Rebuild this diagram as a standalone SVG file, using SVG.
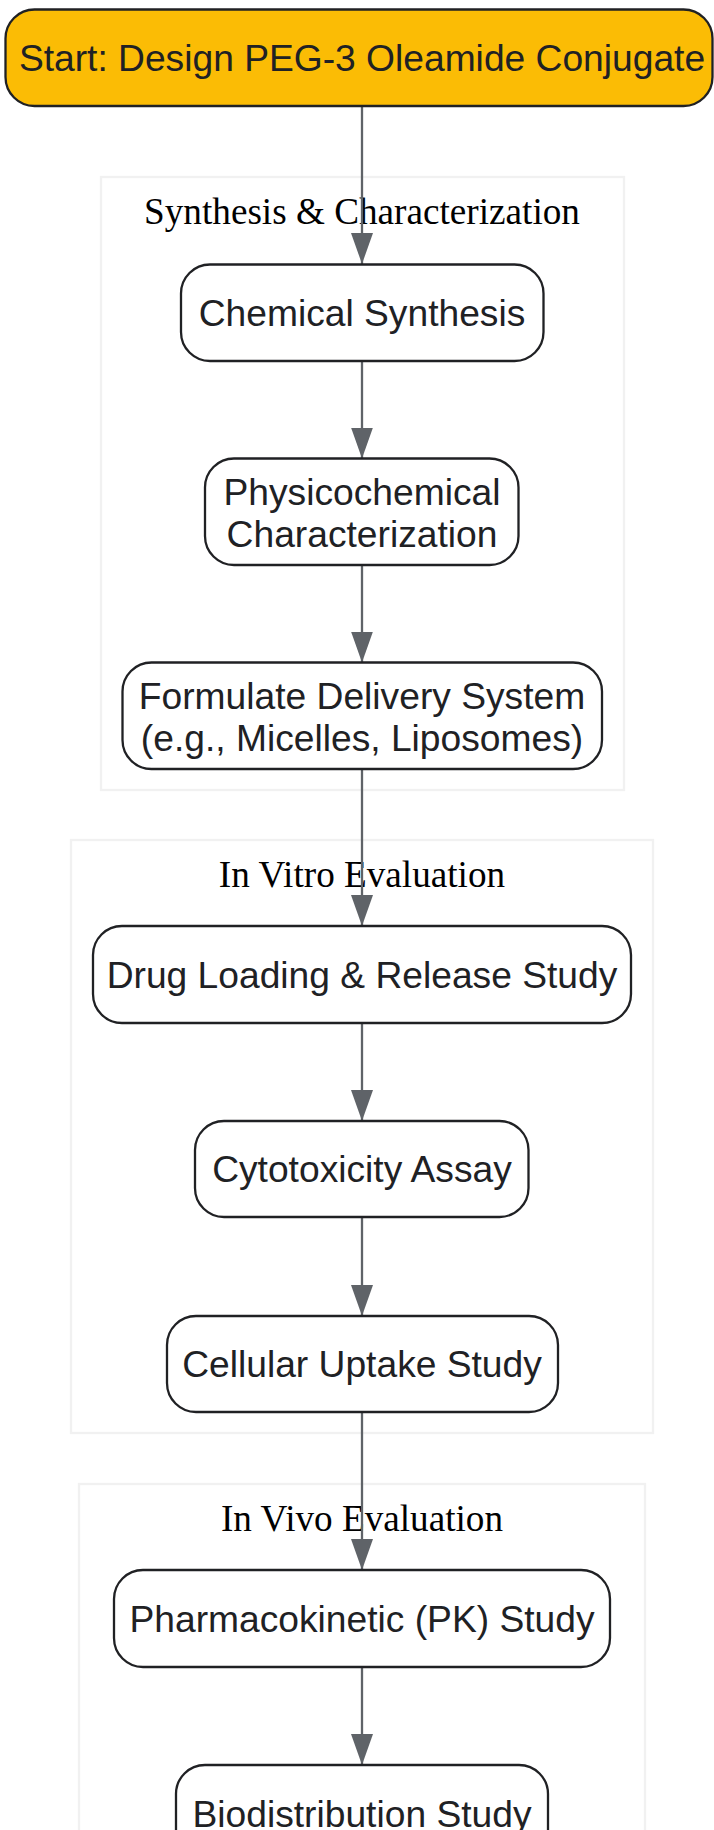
<svg xmlns="http://www.w3.org/2000/svg" width="714" height="1830" viewBox="0 0 714 1830">
  <defs>
    <marker id="arrow" viewBox="0 0 10 10" refX="10" refY="5" markerUnits="userSpaceOnUse" markerWidth="31" markerHeight="22" orient="auto" preserveAspectRatio="none">
      <path d="M0,0 L10,5 L0,10 z" fill="#5f6368"/>
    </marker>
  </defs>
  <style>
    .cluster rect { fill: #ffffff; stroke: #f1f1f1; stroke-width: 2.3; }
    .cluster text { font-family: "Liberation Serif", "Times New Roman", serif; font-size: 37.2px; fill: #000; text-anchor: middle; }
    .node rect { fill: #ffffff; stroke: #202124; stroke-width: 2.3; }
    .node text { font-family: "Liberation Sans", Arial, sans-serif; font-size: 37.2px; fill: #202124; text-anchor: middle; }
    .start rect { fill: #fbbc05; }
    .edge { stroke: #5f6368; stroke-width: 2.3; fill: none; marker-end: url(#arrow); }
  </style>
  <rect x="0" y="0" width="714" height="1830" fill="#ffffff"/>

  <g id="cluster-synthesis" class="cluster">
    <rect x="101" y="177" width="523" height="613"/>
    <text x="362" y="224">Synthesis &amp; Characterization</text>
  </g>
  <g id="cluster-invitro" class="cluster">
    <rect x="71" y="840" width="582" height="593"/>
    <text x="362" y="887">In Vitro Evaluation</text>
  </g>
  <g id="cluster-invivo" class="cluster">
    <rect x="79" y="1484" width="566" height="400"/>
    <text x="362" y="1531">In Vivo Evaluation</text>
  </g>

  <g id="connectors">
    <line class="edge" x1="362" y1="106" x2="362" y2="264"/>
    <line class="edge" x1="362" y1="361" x2="362" y2="458.5"/>
    <line class="edge" x1="362" y1="565" x2="362" y2="662.5"/>
    <line class="edge" x1="362" y1="769" x2="362" y2="926"/>
    <line class="edge" x1="362" y1="1023" x2="362" y2="1121"/>
    <line class="edge" x1="362" y1="1217" x2="362" y2="1316"/>
    <line class="edge" x1="362" y1="1412" x2="362" y2="1570"/>
    <line class="edge" x1="362" y1="1667" x2="362" y2="1765"/>
  </g>

  <g id="node-start" class="node start">
    <rect x="5.5" y="9.5" width="707" height="96.5" rx="29" ry="29"/>
    <text x="362" y="71">Start: Design PEG-3 Oleamide Conjugate</text>
  </g>
  <g id="node-synthesis" class="node">
    <rect x="181" y="264.5" width="362.5" height="96.5" rx="29" ry="29"/>
    <text x="362" y="326">Chemical Synthesis</text>
  </g>
  <g id="node-characterization" class="node">
    <rect x="205" y="458.5" width="313.5" height="106.5" rx="29" ry="29"/>
    <text x="362" y="505">Physicochemical</text>
    <text x="362" y="547">Characterization</text>
  </g>
  <g id="node-formulate" class="node">
    <rect x="122.5" y="662.5" width="479.5" height="106.5" rx="29" ry="29"/>
    <text x="362" y="709">Formulate Delivery System</text>
    <text x="362" y="751">(e.g., Micelles, Liposomes)</text>
  </g>
  <g id="node-drugloading" class="node">
    <rect x="93" y="926" width="538" height="97" rx="29" ry="29"/>
    <text x="362" y="988">Drug Loading &amp; Release Study</text>
  </g>
  <g id="node-cytotoxicity" class="node">
    <rect x="195" y="1121" width="333.5" height="96" rx="29" ry="29"/>
    <text x="362" y="1182">Cytotoxicity Assay</text>
  </g>
  <g id="node-uptake" class="node">
    <rect x="167" y="1316" width="391" height="96" rx="29" ry="29"/>
    <text x="362" y="1377">Cellular Uptake Study</text>
  </g>
  <g id="node-pk" class="node">
    <rect x="114" y="1570" width="496" height="97" rx="29" ry="29"/>
    <text x="362" y="1632">Pharmacokinetic (PK) Study</text>
  </g>
  <g id="node-biodistribution" class="node">
    <rect x="176" y="1765" width="372" height="96.5" rx="29" ry="29"/>
    <text x="362" y="1827">Biodistribution Study</text>
  </g>
</svg>
